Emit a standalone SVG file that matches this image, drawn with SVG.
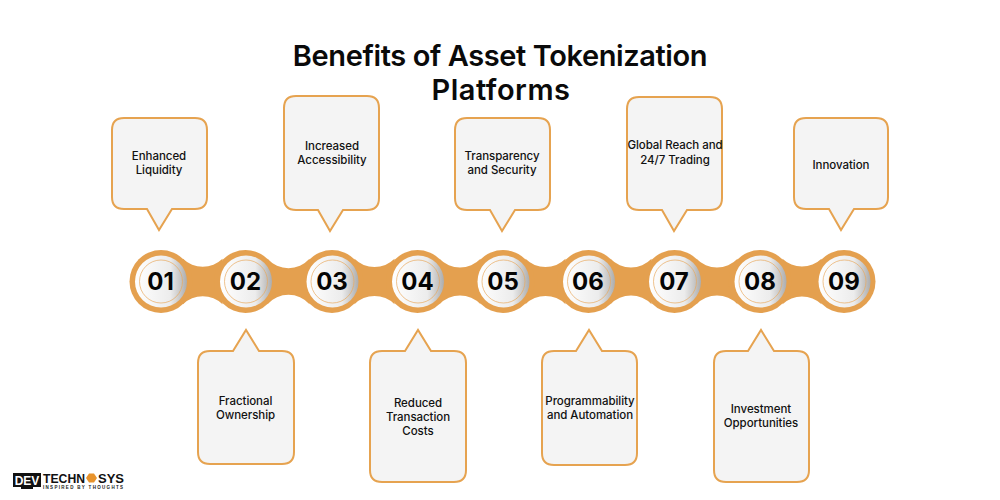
<svg xmlns="http://www.w3.org/2000/svg" width="1000" height="500" viewBox="0 0 1000 500">
<style>
.title{font:600 29px "Inter","Liberation Sans",sans-serif;fill:#0a0a0a;text-anchor:middle;letter-spacing:-.4px}
.box{fill:#f4f4f4;stroke:#e6a350;stroke-width:2}
.lbl{font:500 11.500px "Inter","Liberation Sans",sans-serif;fill:#111;text-anchor:middle;letter-spacing:-.05px}
.band{fill:#e4a04f}
.disc{fill:url(#g)}
.ring{fill:none;stroke:#e8a95f;stroke-width:.7}
.num{font:700 24px "Inter","Liberation Sans",sans-serif;fill:#050505;text-anchor:middle}
</style>
<defs>
<linearGradient id="g" x1="0" x2="1" y1="0" y2="0"><stop offset="0" stop-color="#fff"/><stop offset=".68" stop-color="#ececec"/><stop offset="1" stop-color="#adadad"/></linearGradient>
</defs>
<rect width="1000" height="500" fill="#fff"/>
<text class="title" x="500" y="66">Benefits of Asset Tokenization</text>
<text class="title" x="501" y="100" style="letter-spacing:.5px">Platforms</text>
<g id="connectors">
<path class="band" d="M183 258.800A28.300 28.300 0 0 0 222.500 258.800V304.200A28.300 28.300 0 0 0 183 304.200Z"/>
<path class="band" d="M267.500 258.800A28.300 28.300 0 0 0 309.500 258.800V304.200A28.300 28.300 0 0 0 267.500 304.200Z"/>
<path class="band" d="M354.500 258.800A28.300 28.300 0 0 0 394.500 258.800V304.200A28.300 28.300 0 0 0 354.500 304.200Z"/>
<path class="band" d="M439.500 258.800A28.300 28.300 0 0 0 480.500 258.800V304.200A28.300 28.300 0 0 0 439.500 304.200Z"/>
<path class="band" d="M525.500 258.800A28.300 28.300 0 0 0 565.500 258.800V304.200A28.300 28.300 0 0 0 525.500 304.200Z"/>
<path class="band" d="M610.500 258.800A28.300 28.300 0 0 0 651.500 258.800V304.200A28.300 28.300 0 0 0 610.500 304.200Z"/>
<path class="band" d="M696.500 258.800A28.300 28.300 0 0 0 737.500 258.800V304.200A28.300 28.300 0 0 0 696.500 304.200Z"/>
<path class="band" d="M782.500 258.800A28.300 28.300 0 0 0 821.500 258.800V304.200A28.300 28.300 0 0 0 782.500 304.200Z"/>
</g>
<g id="n1"><path class="box" d="M124 118H195Q207 118 207 130V197Q207 209 195 209H172L159 230L147 209H124Q112 209 112 197V130Q112 118 124 118Z"/><text class="lbl" x="159" y="160">Enhanced</text><text class="lbl" x="159" y="174">Liquidity</text><circle class="band" cx="161" cy="281.500" r="31.500"/><circle class="disc" cx="161" cy="281.500" r="26"/><circle class="ring" cx="161" cy="281.500" r="21.500"/><text class="num" x="160.500" y="290">01</text></g>
<g id="n2"><path class="box" d="M210 351H233L246 330L259 351H282Q294 351 294 363V452Q294 464 282 464H210Q198 464 198 452V363Q198 351 210 351Z"/><text class="lbl" x="245.500" y="405">Fractional</text><text class="lbl" x="245.500" y="419">Ownership</text><circle class="band" cx="245.500" cy="281.500" r="31.500"/><circle class="disc" cx="246" cy="281.500" r="26"/><circle class="ring" cx="246" cy="281.500" r="21.500"/><text class="num" x="245.500" y="290">02</text></g>
<g id="n3"><path class="box" d="M296 96H367Q379 96 379 108V198Q379 210 367 210H343L330 231L318 210H296Q284 210 284 198V108Q284 96 296 96Z"/><text class="lbl" x="332" y="150">Increased</text><text class="lbl" x="332" y="164">Accessibility</text><circle class="band" cx="332" cy="281.500" r="31.500"/><circle class="disc" cx="332.500" cy="281.500" r="26"/><circle class="ring" cx="332.500" cy="281.500" r="21.500"/><text class="num" x="332" y="290">03</text></g>
<g id="n4"><path class="box" d="M382 351H405L418 330L431 351H454Q466 351 466 363V470Q466 482 454 482H382Q370 482 370 470V363Q370 351 382 351Z"/><text class="lbl" x="418" y="407">Reduced</text><text class="lbl" x="418" y="421">Transaction</text><text class="lbl" x="418" y="435">Costs</text><circle class="band" cx="417.500" cy="281.500" r="31.500"/><circle class="disc" cx="418" cy="281.500" r="26"/><circle class="ring" cx="418" cy="281.500" r="21.500"/><text class="num" x="417.500" y="290">04</text></g>
<g id="n5"><path class="box" d="M467 118H538Q550 118 550 130V198Q550 210 538 210H515L502 231L490 210H467Q455 210 455 198V130Q455 118 467 118Z"/><text class="lbl" x="502" y="160">Transparency</text><text class="lbl" x="502" y="174">and Security</text><circle class="band" cx="503" cy="281.500" r="31.500"/><circle class="disc" cx="503.500" cy="281.500" r="26"/><circle class="ring" cx="503.500" cy="281.500" r="21.500"/><text class="num" x="503" y="290">05</text></g>
<g id="n6"><path class="box" d="M554 351H576L589 330L602 351H625Q637 351 637 363V453Q637 465 625 465H554Q542 465 542 453V363Q542 351 554 351Z"/><text class="lbl" x="590" y="405">Programmability</text><text class="lbl" x="590" y="419">and Automation</text><circle class="band" cx="588.500" cy="281.500" r="31.500"/><circle class="disc" cx="589" cy="281.500" r="26"/><circle class="ring" cx="589" cy="281.500" r="21.500"/><text class="num" x="588" y="290">06</text></g>
<g id="n7"><path class="box" d="M639 97H710Q722 97 722 109V198Q722 210 710 210H687L674 231L662 210H639Q627 210 627 198V109Q627 97 639 97Z"/><text class="lbl" x="675" y="149">Global Reach and</text><text class="lbl" x="675" y="164">24/7 Trading</text><circle class="band" cx="674.500" cy="281.500" r="31.500"/><circle class="disc" cx="675" cy="281.500" r="26"/><circle class="ring" cx="675" cy="281.500" r="21.500"/><text class="num" x="674" y="290">07</text></g>
<g id="n8"><path class="box" d="M726 351H748L761 330L774 351H797Q809 351 809 363V470Q809 482 797 482H726Q714 482 714 470V363Q714 351 726 351Z"/><text class="lbl" x="761" y="413">Investment</text><text class="lbl" x="761" y="427">Opportunities</text><circle class="band" cx="760" cy="281.500" r="31.500"/><circle class="disc" cx="760.500" cy="281.500" r="26"/><circle class="ring" cx="760.500" cy="281.500" r="21.500"/><text class="num" x="760" y="290">08</text></g>
<g id="n9"><path class="box" d="M806 118H876Q888 118 888 130V197Q888 209 876 209H854L841 230L829 209H806Q794 209 794 197V130Q794 118 806 118Z"/><text class="lbl" x="841" y="169">Innovation</text><circle class="band" cx="844" cy="281.500" r="31.500"/><circle class="disc" cx="844.500" cy="281.500" r="26"/><circle class="ring" cx="844.500" cy="281.500" r="21.500"/><text class="num" x="844" y="290">09</text></g>
<g id="logo">
<rect x="13" y="473" width="28" height="14" fill="#111"/><path d="M21 487H33V489H21Z" fill="#111"/>
<text x="27" y="484.500" font-family="Liberation Sans, sans-serif" font-size="12" font-weight="700" fill="#fff" text-anchor="middle">DEV</text>
<text x="43" y="482.500" font-family="Liberation Sans, sans-serif" font-size="12" font-weight="700" fill="#111" textLength="42" lengthAdjust="spacingAndGlyphs">TECHN</text>
<path d="M86 478L89 473.500H94L97 478L94 482.500H89Z" fill="#e8932c"/>
<text x="98" y="482.500" font-family="Liberation Sans, sans-serif" font-size="12" font-weight="700" fill="#111" textLength="26" lengthAdjust="spacingAndGlyphs">SYS</text>
<text x="43" y="489" font-family="Liberation Sans, sans-serif" font-size="4.500" font-weight="700" fill="#222" textLength="80" lengthAdjust="spacing">INSPIRED BY THOUGHTS</text>
</g>
</svg>
